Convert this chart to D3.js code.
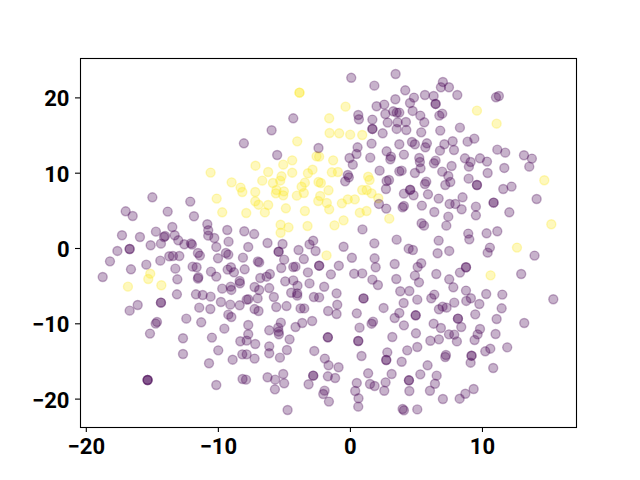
<!DOCTYPE html>
<html>
<head>
<meta charset="utf-8">
<script src="https://cdn.jsdelivr.net/npm/d3@7"></script>
<style>
  html, body { margin: 0; padding: 0; background: #fff; }
  svg { display: block; }
  .tick text { font-family: Roboto, sans-serif; font-weight: 700; font-size: 22px; fill: #000; }
</style>
</head>
<body>
<div id="chart"></div>
<script>
const xTicks = [-20, -10, 0, 10];
const yTicks = [-20, -10, 0, 10, 20];
const xDomain = [-20.44, 17.12];
const yDomain = [-23.77, 25.23];

// purple class, repeated pairs are the darker dots
const purple = [
  [-14.96,6.73],[-16.98,4.87],[-16.45,4.25],[-12.09,6.16],[-13.8,4.83],[-11.81,4.21],[-10.8,3.15],[-10.73,2.35],
  [-10.73,1.64],[-10.27,1.33],[-13.45,2.79],[-14.69,2.17],[-17.26,1.69],[-15.9,1.46],[-13.27,1.69],[-14.08,1.46],
  [-14.0,1.6],[-14.31,0.58],[-15.09,0.36],[-13.0,1.02],[-12.54,0.49],[-12.04,0.62],[-11.96,0.45],[-9.29,2.39],
  [-8.0,2.22],[-9.19,0.84],[-10.12,0.14],[-7.7,0.14],[-16.68,-0.13],[-16.68,-0.13],[-17.61,-0.39],[-18.17,-1.77],
  [-18.72,-3.85],[-16.58,-2.83],[-15.42,-2.21],[-14.36,-1.68],[-13.68,-1.1],[-13.4,-1.06],[-12.92,-1.06],[-11.51,-0.66],
  [-11.36,-1.01],[-9.99,-1.37],[-9.39,-0.66],[-9.21,-0.88],[-8.1,-1.28],[-13.22,-2.74],[-11.91,-2.48],[-11.61,-2.56],
  [-10.52,-3.14],[-10.12,-3.8],[-9.26,-2.87],[-9.01,-2.56],[-8.78,-3.23],[-7.97,-2.83],[-13.07,-4.16],[-11.48,-3.89],
  [-11.51,-4.07],[-8.35,-4.38],[-8.33,-4.69],[-9.67,-5.4],[-9.03,-5.13],[-8.98,-5.57],
  [-13.1,-6.15],[-11.66,-6.15],[-11.15,-6.24],[-10.55,-6.46],[-16.07,-7.57],[-16.68,-8.32],[-14.31,-7.26],[-14.31,-7.26],
  [-9.77,-7.17],[-9.06,-7.52],[-8.35,-7.61],[-7.7,-6.81],[-7.82,-6.86],[-11.41,-7.92],[-10.57,-8.1],[-9.21,-8.85],
  [-8.98,-9.16],[-12.39,-9.38],[-11.26,-9.87],[-14.61,-9.82],[-14.71,-10.04],[-15.14,-11.37],[-9.51,-10.71],[-7.7,-10.22],
  [-7.7,-11.46],[-12.64,-11.99],[-10.45,-11.9],[-8.3,-12.39],[-7.82,-12.3],[-12.64,-14.07],[-9.97,-13.59],[-10.67,-15.31],
  [-8.88,-14.83],[-8.15,-14.12],[-7.82,-14.12],[-15.32,-17.53],[-15.32,-17.53],[-15.32,-17.53],[-10.12,-18.19],[-8.13,-17.39],[-7.87,-17.48],
  [-7.25,1.85],[-6.24,0.66],[-5.1,0.53],[-5.4,-0.49],[-5.4,-0.49],[-3.89,-0.27],[-3.06,0.48],[-2.78,0.97],
  [-2.6,-0.4],[-0.48,0.17],[0.95,2.47],[0.15,-1.29],[-4.98,-1.55],[-3.49,-1.47],[-6.97,-1.78],[-6.87,-1.91],
  [-5.2,-2.66],[-4.29,-2.53],[-4.12,-2.48],[-2.33,-2.35],[-2.33,-2.35],[-0.84,-2.35],[-3.18,-3.24],[-1.44,-3.5],
  [0.32,-3.41],[0.93,-3.37],[-6.06,-3.46],[-6.31,-3.81],[-6.79,-3.99],[-4.9,-4.43],[-4.29,-4.3],[-3.97,-5.01],
  [-3.06,-4.7],[-1.95,-5.14],[-7.22,-5.18],[-6.87,-5.58],[-6.11,-5.32],[-4.45,-5.94],[-3.99,-6.02],[-3.99,-6.33],
  [-5.76,-6.51],[-6.99,-6.69],[-2.73,-6.51],[-2.33,-6.56],[-1.01,-6.02],[-0.96,-7.53],[1.03,-6.69],[1.03,-6.69],
  [-5.58,-7.84],[-4.8,-7.71],[-3.74,-8.02],[-3.46,-8.02],[-7.22,-8.11],[-6.92,-8.37],[-1.65,-8.37],[-1.01,-8.77],[0.52,-8.68],
  [-5.23,-9.91],[-5.43,-10.58],[-5.4,-11.11],[-5.38,-11.46],[-6.11,-10.93],[-4.12,-10.49],[-3.61,-9.96],[-2.86,-9.69],
  [-4.57,-12.13],[-7.17,-12.75],[-6.11,-13.06],[-6.11,-13.98],[-4.77,-13.54],[-5.3,-14.56],[-7.22,-14.69],[-2.7,-13.67],
  [-1.67,-11.86],[-1.67,-11.86],[0.63,-12.35],[0.63,-12.35],[0.73,-10.58],[0.88,-14.34],[-1.9,-14.69],[-1.62,-15.58],
  [-0.86,-15.84],[-5.05,-16.73],[-6.24,-17.17],[-5.66,-17.48],[-4.98,-17.97],[-5.68,-18.77],[-2.78,-16.95],[-2.78,-16.95],
  [-3.13,-18.1],[-1.67,-17.04],[-1.12,-17.26],[-1.92,-18.94],[-2.02,-19.39],[-1.59,-20.4],[-4.72,-21.51],[0.52,-17.92],
  [0.4,-18.99],[0.65,-19.96],[0.63,-21.07],[1.38,-16.64],
  [0.1,22.6],[-4.29,17.22],[-5.93,15.63],[-8.03,13.9],[-5.51,12.35],[-2.38,13.28],[0.63,17.66],[0.68,17.09],
  [0.58,13.37],[0.5,12.48],[-0.03,11.95],[0.22,11.07],[-0.16,9.69],[-0.08,9.38],[-0.36,8.85],
  [3.46,23.11],[1.85,21.56],[7.04,22.05],[6.89,21.34],[7.5,21.34],[4.19,20.94],[8.13,20.32],[5.68,20.32],
  [6.34,20.19],[4.85,19.97],[3.44,19.75],[4.55,19.26],[6.49,19.13],[6.49,19.13],[11.06,20.01],[11.28,20.19],
  [2.02,18.82],[2.6,19.04],[3.28,18.15],[2.68,17.8],[3.54,17.98],[3.74,17.98],[4.75,18.2],[5.33,17.58],
  [6.99,17.84],[6.77,17.58],[5.63,16.69],[1.7,17.05],[2.86,16.65],[3.61,16.69],[4.24,16.74],[1.7,15.81],
  [1.7,15.81],[3.54,15.81],[4.27,15.67],[2.48,15.23],[5.4,15.36],[6.84,15.59],[8.33,15.98],[1.64,13.86],
  [3.74,13.77],[4.7,14.08],[4.92,13.77],[5.83,13.9],[5.71,13.37],[7.15,13.77],[7.78,14.17],[6.82,12.93],
  [7.88,13.02],[8.91,14.12],[9.42,14.52],[11.16,13.06],[11.76,12.66],[2.78,12.84],[4.09,12.4],[1.54,12.0],
  [3.11,12.13],[3.06,11.78],[5.25,11.96],[5.3,11.42],[6.49,11.6],[6.36,11.25],[5.35,10.58],[8.71,11.91],
  [9.14,11.42],[9.01,10.8],[9.85,11.91],[10.38,11.47],[13.18,12.31],[13.78,11.87],[13.58,10.8],[7.7,10.89],
  [6.99,10.14],[11.69,10.63],[10.43,9.96],[2.25,10.27],[4.92,9.96],[3.74,10.18],[3.92,10.27],[7.45,9.56],
  [7.6,8.77],[7.22,8.37],[8.99,9.21],[9.62,8.37],[9.62,8.37],[5.78,8.81],[5.68,8.5],[2.96,9.03],
  [2.78,8.9],[2.73,7.84],[4.57,7.75],[11.61,7.84],[12.24,8.15],
  [4.09,7.22],[4.55,7.71],[4.82,7.0],[5.91,7.13],[6.72,6.56],[8.53,6.73],[14.14,6.51],[7.55,5.85],
  [7.98,5.85],[8.46,5.14],[9.54,5.49],[9.54,4.34],[10.88,6.02],[10.88,6.02],[12.07,4.74],[2.2,5.85],
  [2.75,5.23],[4.09,5.58],[3.99,5.4],[5.45,5.63],[6.39,4.78],[7.45,4.16],[5.43,3.28],[5.61,2.97],
  [7.3,2.97],[8.96,1.91],[9.04,1.15],[10.35,1.95],[11.16,2.22],[3.54,1.11],[1.85,0.62],[6.72,0.98],
  [4.45,-0.09],[4.77,-0.26],[6.64,-0.7],[7.52,-0.39],[10.6,0.05],[10.43,-0.62],[13.98,-1.01],[1.87,-1.37],
  [1.95,-2.56],[3.39,-2.12],[5.4,-2.03],[5.13,-2.52],[8.79,-2.56],[8.79,-2.56],[8.33,-3.27],[6.54,-3.45],
  [4.92,-3.67],[12.97,-3.45],[7.52,-4.16],[3.51,-4.11],[1.7,-4.2],[2.12,-4.91],[5.23,-4.56],[7.83,-5.22],
  [3.81,-5.75],[4.5,-5.71],[8.79,-5.66],[10.32,-6.11],[11.54,-6.19],[6.39,-6.19],[6.16,-6.68],[9.16,-6.68],
  [8.81,-7.03],[4.07,-7.3],[5.1,-6.86],[7.9,-7.26],[9.8,-7.43],[15.4,-6.81],[2.55,-7.96],[11.49,-8.01],
  [7.02,-7.79],[7.32,-7.92],[6.74,-8.14],
  [3.74,-8.63],[3.39,-9.3],[4.98,-8.94],[4.98,-8.94],[1.75,-9.78],[1.64,-10.05],[4.09,-10.27],[8.18,-9.38],
  [8.18,-9.38],[9.49,-8.81],[11.11,-9.43],[13.2,-9.96],[6.34,-10.05],[6.89,-10.62],[8.43,-10.49],[9.85,-10.76],
  [9.67,-11.47],[9.44,-12.22],[11.03,-11.42],[5.0,-11.33],[3.21,-11.82],[7.5,-11.47],[7.9,-11.51],[8.1,-12.4],
  [6.09,-12.31],[6.74,-12.13],[5.1,-13.15],[4.34,-13.59],[2.83,-13.86],[2.75,-14.87],[2.75,-14.87],[3.92,-15.1],
  [7.27,-14.21],[7.22,-14.48],[9.21,-14.3],[9.21,-14.3],[9.14,-15.23],[10.63,-13.37],[10.25,-13.72],[11.91,-13.19],
  [10.85,-15.94],[5.88,-15.58],[3.16,-16.73],[5.33,-16.78],[6.57,-16.95],[4.47,-17.57],[4.47,-17.57],[6.44,-18.02],
  [6.06,-18.95],[2.7,-17.84],[1.52,-18.06],[1.87,-18.33],[2.6,-18.95],[4.5,-18.99],[9.37,-18.73],[8.74,-19.35],
  [8.31,-20.01],[7.04,-20.05],[3.99,-21.38],[4.09,-21.56],[5.1,-21.43]
];

// yellow class
const yellow = [
  [-10.55,10.01],[-8.96,8.72],[-8.28,8.02],[-8.15,7.44],[-10.09,6.56],[-9.67,4.74],[-7.85,4.65],[-15.12,-3.41],
  [-15.27,-4.11],[-16.81,-5.13],[-14.28,-4.95],[-3.82,20.63],[-3.82,20.63],[-0.33,18.77],[-1.57,17.22],[-1.54,15.27],
  [-0.81,15.23],[0.02,15.05],[0.93,15.01],[-3.99,14.16],[-2.53,12.17],[-2.33,12.13],[-1.27,11.64],[-4.37,11.64],
  [-7.15,10.93],[-5.05,11.07],[-6.19,10.09],[-4.37,10.0],[-2.83,10.4],[-3.18,9.92],[-1.37,10.05],[-0.91,10.09],
  [-6.64,8.94],[-5.18,9.52],[-5.28,8.94],[-5.83,8.63],[-3.41,8.68],[-3.66,8.14],[-2.38,8.76],[-2.2,8.63],
  [1.38,9.47],[1.49,9.03],[-7.17,7.44],[-5.56,7.7],[-5.61,7.26],[-5.0,7.52],[-5.05,6.99],[-4.02,6.95],
  [-3.49,7.3],[-1.62,7.66],[-2.25,6.9],[-2.4,6.24],[0.93,7.7],[-0.16,6.46],[0.37,6.46],[-0.61,5.93],
  [-1.75,5.98],[-1.57,5.13],[-7.17,6.2],[-6.92,5.75],[-6.19,5.71],[-4.85,5.27],[-3.41,4.91],[-6.44,4.73],
  [0.75,4.69],[1.26,4.91],[-0.48,3.67],[-1.17,3.01],[-3.21,2.92],[-5.25,3.09],[-4.65,2.74],[-5.25,2.03],
  [-1.77,-0.98],[1.27,7.7],[1.64,7.26],[2.15,6.6],[2.98,3.9],[9.62,18.24],[11.11,16.51],[14.72,8.99],
  [15.25,3.15],[12.65,0.05],[10.65,-3.63]
];

const width = 640, height = 480;
const x = d3.scaleLinear().domain(xDomain).range([80, 576]);
const y = d3.scaleLinear().domain(yDomain).range([427, 58]);

const svg = d3.select('#chart').append('svg')
  .attr('width', width)
  .attr('height', height)
  .attr('viewBox', [0, 0, width, height].join(' '));

function drawDots(data, color) {
  svg.append('g').selectAll('circle')
    .data(data)
    .join('circle')
    .attr('cx', d => x(d[0]))
    .attr('cy', d => y(d[1]))
    .attr('r', 4.5)
    .attr('fill', color)
    .attr('fill-opacity', 0.3)
    .attr('stroke', color)
    .attr('stroke-opacity', 0.3)
    .attr('stroke-width', 1.4);
}

drawDots(yellow, '#fde725');
drawDots(purple, '#440154');

const xAxis = d3.axisBottom(x).tickValues(xTicks).tickSize(5).tickPadding(6.5)
  .tickFormat(d => String(d).replace('-', '\u2212'));
const yAxis = d3.axisLeft(y).tickValues(yTicks).tickSize(5).tickPadding(5.5)
  .tickFormat(d => String(d).replace('-', '\u2212'));

svg.append('g').attr('transform', `translate(0,${y.range()[0]})`).call(xAxis);
svg.append('g').attr('transform', `translate(${x.range()[0]},0)`).call(yAxis)
  .selectAll('text').attr('dy', '0.39em');

svg.selectAll('.domain').remove();
svg.selectAll('.tick line').attr('stroke', '#000').attr('stroke-width', 1.1);

// frame on all four sides, offset half a pixel to stay crisp
svg.append('rect')
  .attr('x', x.range()[0] + 0.5)
  .attr('y', y.range()[1] + 0.5)
  .attr('width', x.range()[1] - x.range()[0])
  .attr('height', y.range()[0] - y.range()[1])
  .attr('fill', 'none')
  .attr('stroke', '#000')
  .attr('stroke-width', 1.1);
</script>
</body>
</html>
